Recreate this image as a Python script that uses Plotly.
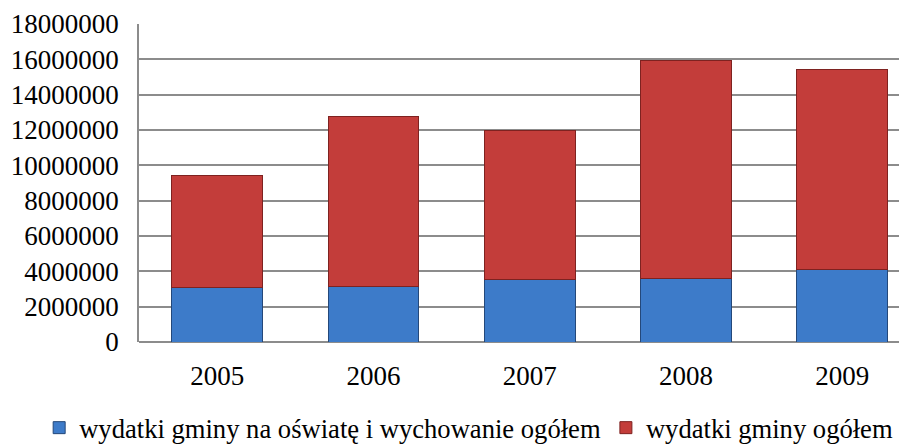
import plotly.graph_objects as go

years = ["2005", "2006", "2007", "2008", "2009"]
oswiata = [3100000, 3170000, 3510000, 3570000, 4080000]
ogolem = [6350000, 9620000, 8490000, 12390000, 11320000]
y_ticks = [0, 2000000, 4000000, 6000000, 8000000, 10000000, 12000000, 14000000, 16000000, 18000000]

name_blue = "wydatki gminy na oświatę i wychowanie ogółem"
name_red = "wydatki gminy ogółem"

FONT = "Liberation Serif, Times New Roman, serif"

fig = go.Figure()
fig.add_trace(go.Bar(
    x=years, y=oswiata, name=name_blue,
    marker=dict(color="#3D7BC9", line=dict(color="#24487A", width=1)),
))
fig.add_trace(go.Bar(
    x=years, y=ogolem, name=name_red,
    marker=dict(color="#C33D3A", line=dict(color="#7E2220", width=1)),
))

fig.update_layout(
    barmode="stack",
    bargap=0.42,
    width=899, height=436,
    margin=dict(l=131, r=0, t=16, b=102, autoexpand=False),
    paper_bgcolor="white",
    plot_bgcolor="white",
    font=dict(family=FONT, size=27, color="black"),
    showlegend=True,
    legend=dict(
        orientation="h",
        x=-0.130, xanchor="left",
        y=-0.27, yanchor="middle",
        font=dict(family=FONT, size=26.6, color="black"),
        traceorder="normal",
        itemwidth=30,
        tracegroupgap=0,
        borderwidth=0,
    ),
    xaxis=dict(
        type="category",
        range=[-0.5, 4.414],
        showgrid=False,
        showline=False,
        ticks="",
        ticklabelstandoff=15,
        tickfont=dict(family=FONT, size=27),
    ),
    yaxis=dict(
        range=[0, 18000000],
        tickvals=y_ticks,
        tickformat="d",
        showgrid=True,
        gridcolor="#8C8C8C",
        gridwidth=1.5,
        showline=True,
        linecolor="#8C8C8C",
        linewidth=1.5,
        zeroline=True,
        zerolinecolor="#8C8C8C",
        zerolinewidth=1.5,
        ticks="",
        ticklabelstandoff=13,
        tickfont=dict(family=FONT, size=27),
    ),
)

fig.write_html("out.html")
